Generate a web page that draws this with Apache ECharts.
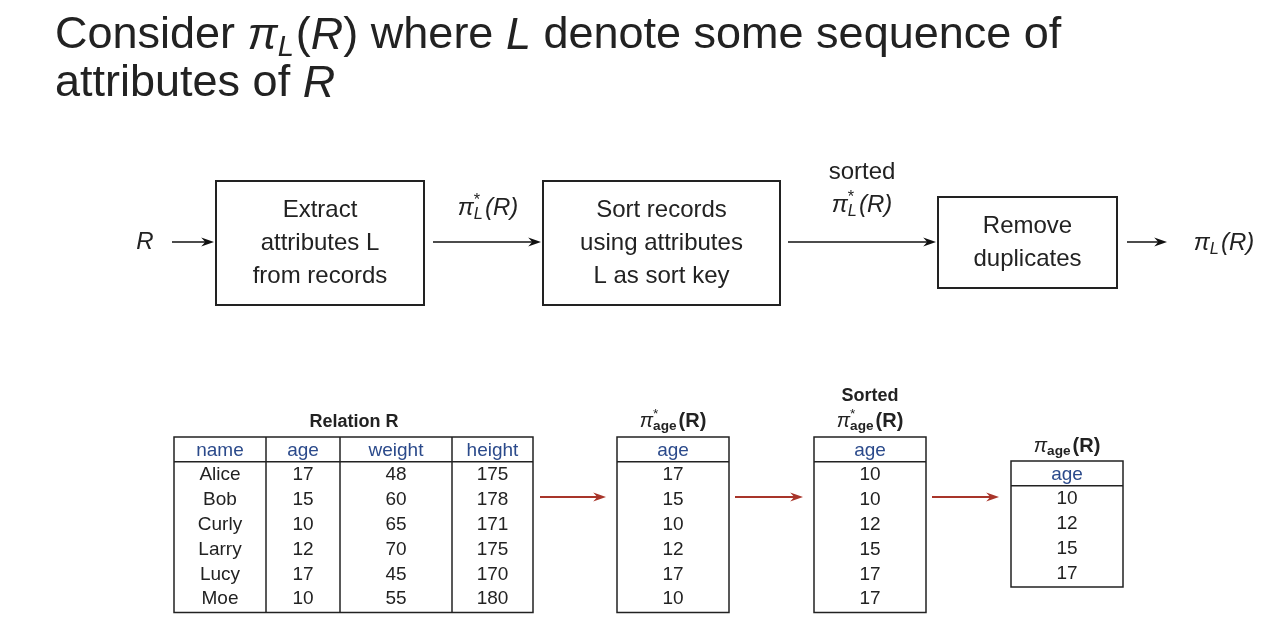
<!DOCTYPE html>
<html>
<head>
<meta charset="utf-8">
<script src="https://cdn.jsdelivr.net/npm/echarts@6/dist/echarts.min.js"></script>
<style>body{margin:0;background:#fff}#main{width:1280px;height:620px}</style>
</head>
<body>
<div id="main"></div>
<script>
// pipeline steps
var steps = [['Extract', 'attributes L', 'from records'], ['Sort records', 'using attributes', 'L as sort key'], ['Remove', 'duplicates']];
// relation R
var columns = ['name', 'age', 'weight', 'height'];
var names = ['Alice', 'Bob', 'Curly', 'Larry', 'Lucy', 'Moe'];
var ages = [17, 15, 10, 12, 17, 10];
var weights = [48, 60, 65, 70, 45, 55];
var heights = [175, 178, 171, 175, 170, 180];
var sortedAges = [10, 10, 12, 15, 17, 17];
var distinctAges = [10, 12, 15, 17];

var FONT = '"Liberation Sans", Arial, sans-serif';
var BLUE = '#2b4a8b';
var RED = '#a8352a';
var ctx = document.createElement('canvas').getContext('2d');
function tw(t, size, style, weight) {
    ctx.font = (style || '') + ' ' + (weight || '') + ' ' + size + 'px ' + FONT;
    return ctx.measureText(t).width;
}

var els = [];
function text(x, y, t, size, opt) {
    opt = opt || {};
    els.push({
        type: 'text', x: x, y: y,
        style: {
            text: t, fontSize: size, fontFamily: FONT, fill: opt.color || '#222',
            fontStyle: opt.italic ? 'italic' : 'normal', fontWeight: opt.bold ? 'bold' : 'normal',
            align: opt.align || 'left', verticalAlign: 'middle'
        }
    });
}
function rect(x, y, w, h, lw) {
    els.push({ type: 'rect', shape: { x: x, y: y, width: w, height: h }, style: { fill: 'none', stroke: '#222', lineWidth: lw } });
}
function line(x1, y1, x2, y2, lw, c) {
    els.push({ type: 'line', shape: { x1: x1, y1: y1, x2: x2, y2: y2 }, style: { stroke: c || '#222', lineWidth: lw } });
}
function arrow(x1, x2, y, c, lw, head) {
    line(x1, y, x2 - head, y, lw, c);
    els.push({ type: 'polygon', shape: { points: [[x2, y], [x2 - head * 1.6, y - head * 0.55], [x2 - head * 1.1, y], [x2 - head * 1.6, y + head * 0.55]] }, style: { fill: c } });
}
// pi with subscript / star, then "(R)"; centred at cx
function pi(cx, y, size, sub, star, bold) {
    var ss = size * 0.68;
    var wPi = tw('\u03c0', size, 'italic');
    var wSub = bold ? tw(sub, ss, '', 'bold') : tw(sub, ss, 'italic');
    var wPar = tw('(R)', size, bold ? '' : 'italic', bold ? 'bold' : '');
    var total = wPi + wSub + 2 + wPar;
    var x = cx - total / 2;
    text(x, y, '\u03c0', size, { italic: true });
    text(x + wPi, y + size * 0.28, sub, ss, { italic: !bold, bold: bold });
    if (star) text(x + wPi, y - size * 0.32, '*', ss);
    text(x + wPi + wSub + 2, y, '(R)', size, { italic: !bold, bold: bold });
}

// title
var tSize = 45;
var x = 55;
text(x, 36, 'Consider ', tSize); x += tw('Consider ', tSize);
text(x, 36, '\u03c0', tSize, { italic: true }); x += tw('\u03c0', tSize, 'italic');
text(x, 48, 'L', 29, { italic: true }); x += tw('L', 29, 'italic') + 2;
text(x, 36, '(', tSize); x += tw('(', tSize);
text(x, 36, 'R', tSize, { italic: true }); x += tw('R', tSize, 'italic');
text(x, 36, ') where ', tSize); x += tw(') where ', tSize);
text(x, 36, 'L', tSize, { italic: true }); x += tw('L ', tSize, 'italic');
text(x, 36, 'denote some sequence of', tSize);
text(55, 84, 'attributes of ', tSize);
text(55 + tw('attributes of ', tSize), 84, 'R', tSize, { italic: true });

// pipeline
var boxes = [[216, 181, 208, 124], [543, 181, 237, 124], [938, 197, 179, 91]];
boxes.forEach(function (b, i) {
    rect(b[0], b[1], b[2], b[3], 2);
    var n = steps[i].length;
    steps[i].forEach(function (s, j) {
        text(b[0] + b[2] / 2, b[1] + b[3] / 2 + (j - (n - 1) / 2) * 33, s, 24, { align: 'center' });
    });
});
text(145, 242, 'R', 24, { italic: true, align: 'center' });
arrow(172, 214, 242, '#111', 1.5, 8);
arrow(433, 541, 242, '#111', 1.5, 8);
pi(488, 208, 24, 'L', true, false);
arrow(788, 936, 242, '#111', 1.5, 8);
text(862, 172, 'sorted', 24, { align: 'center' });
pi(862, 205, 24, 'L', true, false);
arrow(1127, 1167, 242, '#111', 1.5, 8);
pi(1224, 243, 24, 'L', false, false);

// tables
var RH = 24.8, FS = 19;
function table(x0, y0, colX, head, rows) {
    var w = colX[colX.length - 1] - x0;
    var h = RH + rows.length * RH + 2;
    rect(x0, y0, w, h, 1.5);
    line(x0, y0 + RH, x0 + w, y0 + RH, 1.5);
    var edges = [x0].concat(colX);
    for (var i = 1; i < edges.length - 1; i++) line(edges[i], y0, edges[i], y0 + h, 1.5);
    head.forEach(function (c, i) {
        var cx = (edges[i] + edges[i + 1]) / 2;
        text(cx, y0 + RH / 2 + 1, c, FS, { color: BLUE, align: 'center' });
        rows.forEach(function (r, j) {
            text(cx, y0 + RH * (j + 1.5) + 1, String(r[i]), FS, { align: 'center' });
        });
    });
}
var relRows = names.map(function (n, i) { return [n, ages[i], weights[i], heights[i]]; });
text(354, 422, 'Relation R', 18, { bold: true, align: 'center' });
table(174, 437, [266, 340, 452, 533], columns, relRows);

pi(673, 421, 20, 'age', true, true);
table(617, 437, [729], ['age'], ages.map(function (a) { return [a]; }));

text(870, 396, 'Sorted', 18, { bold: true, align: 'center' });
pi(870, 421, 20, 'age', true, true);
table(814, 437, [926], ['age'], sortedAges.map(function (a) { return [a]; }));

pi(1067, 446, 20, 'age', false, true);
table(1011, 461, [1123], ['age'], distinctAges.map(function (a) { return [a]; }));

arrow(540, 606, 497, RED, 2, 8);
arrow(735, 803, 497, RED, 2, 8);
arrow(932, 999, 497, RED, 2, 8);

var myChart = echarts.init(document.getElementById('main'));
myChart.setOption({ animation: false, graphic: { elements: els } });
</script>
</body>
</html>
